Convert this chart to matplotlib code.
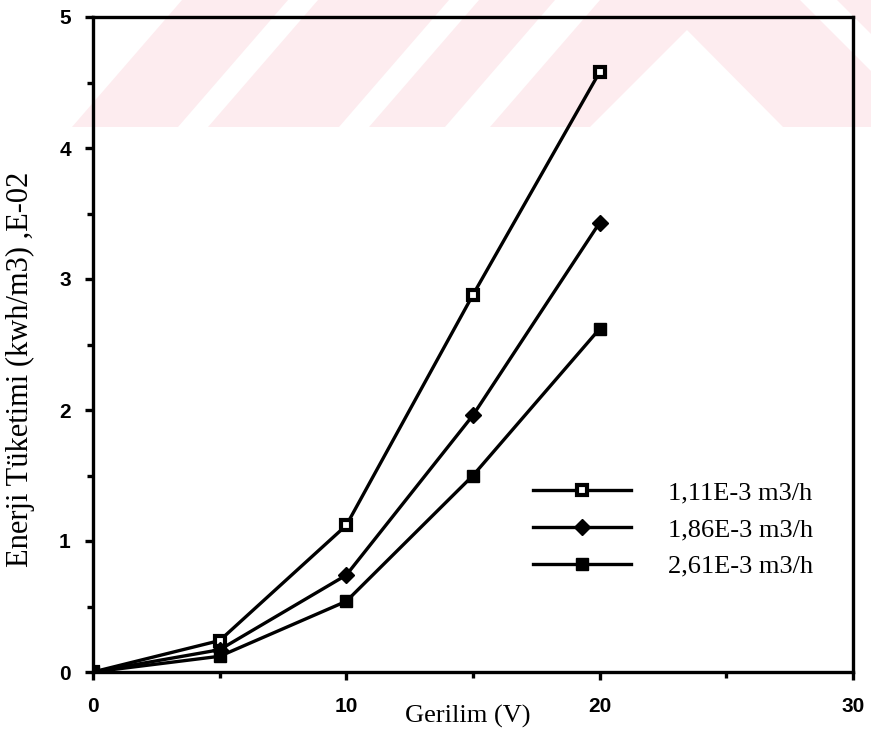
import numpy as np
import matplotlib
matplotlib.use("Agg")
import matplotlib.pyplot as plt
from matplotlib.patches import Polygon
from matplotlib.ticker import MultipleLocator

# data
voltage = [0, 5, 10, 15, 20]
flow_labels = ["1,11E-3 m3/h", "1,86E-3 m3/h", "2,61E-3 m3/h"]
energy_111 = [0.0, 0.24, 1.12, 2.88, 4.58]
energy_186 = [0.0, 0.17, 0.74, 1.96, 3.43]
energy_261 = [0.0, 0.12, 0.54, 1.50, 2.62]

W, H = 871, 738
fig = plt.figure(figsize=(W / 100, H / 100), dpi=100)

# faint pink watermark at the top of the scanned page (pixel coords, y down)
pink = "#fdecef"


def px(pts):
    return [(x / W, 1 - y / H) for x, y in pts]


def blob(pts, color):
    fig.patches.append(Polygon(px(pts), closed=True, transform=fig.transFigure,
                               facecolor=color, edgecolor="none", zorder=0))


blob([(72, 127), (871, 127), (871, 0), (182, 0)], pink)
for b in [178, 339, 445]:
    w = 30 if b < 400 else 45
    blob([(b, 127), (b + w, 127), (b + w + 110, 0), (b + 110, 0)], "white")
blob([(590, 127), (687, 30), (783, 127)], "white")
blob([(800, 0), (837, 0), (871, 34), (871, 71)], "white")

ax = fig.add_axes([93 / W, 66 / H, 760 / W, 655 / H])
ax.set_zorder(1)
ax.patch.set_alpha(0)

ax.plot(voltage, energy_111, color="black", lw=2.4, marker="s", ms=7,
        mfc="white", mec="black", mew=3, label=flow_labels[0])
ax.plot(voltage, energy_186, color="black", lw=2.4, marker="D", ms=8,
        mfc="black", mec="black", label=flow_labels[1])
ax.plot(voltage, energy_261, color="black", lw=2.4, marker="s", ms=9,
        mfc="black", mec="black", label=flow_labels[2])

ax.set_xlim(0, 30)
ax.set_ylim(0, 5)
ax.xaxis.set_major_locator(MultipleLocator(10))
ax.xaxis.set_minor_locator(MultipleLocator(5))
ax.yaxis.set_major_locator(MultipleLocator(1))
ax.yaxis.set_minor_locator(MultipleLocator(0.5))
ax.tick_params(which="major", direction="out", length=6, width=2.4)
ax.tick_params(which="minor", direction="out", length=4, width=2.4)
ax.tick_params(axis="x", pad=12)
ax.tick_params(axis="y", pad=10)
for lab in ax.get_xticklabels() + ax.get_yticklabels():
    lab.set_family("Liberation Sans")
    lab.set_fontsize(15)
    lab.set_fontweight("bold")

for s in ax.spines.values():
    s.set_linewidth(2.4)

ax.set_xlabel("Gerilim (V)", family="Liberation Serif", fontsize=19)
ax.xaxis.set_label_coords((468 - 93) / 760, -33 / 655)
ax.set_ylabel("Enerji Tüketimi (kwh/m3) ,E-02", family="Liberation Serif", fontsize=22)
ax.yaxis.set_label_coords(-(93 - 35) / 760, (672 - 369) / 655)

ax.legend(loc="upper left", bbox_to_anchor=((533 - 93) / 760, (672 - 481) / 655),
          frameon=False, borderpad=0, borderaxespad=0, handlelength=3.7,
          handletextpad=1.4, labelspacing=0.5, numpoints=1,
          prop={"family": "Liberation Serif", "size": 19})

fig.savefig("out.png", dpi=100)
